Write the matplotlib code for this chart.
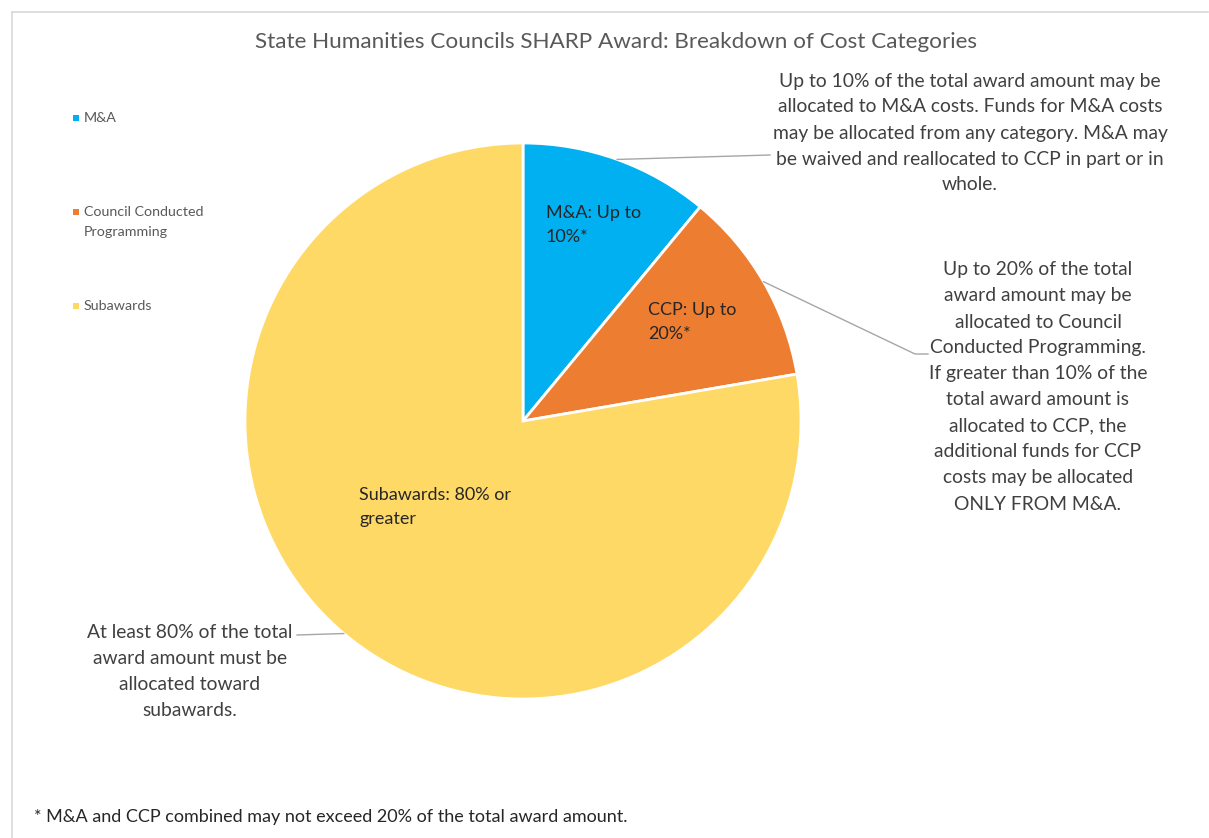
import matplotlib
matplotlib.use("Agg")
import matplotlib.pyplot as plt
from matplotlib.patches import Rectangle
import numpy as np

# ---- data ----
categories = ["M&A", "Council Conducted\nProgramming", "Subawards"]
values = [11.0, 11.3, 77.7]
slice_labels = ["M&A: Up to\n10%*", "CCP: Up to\n20%*", "Subawards: 80% or\ngreater"]
colors = ["#00B0F0", "#ED7D31", "#FFD966"]
title = "State Humanities Councils SHARP Award: Breakdown of Cost Categories"
callout_ma = ["Up to 10% of the total award amount may be",
              "allocated to M&A costs. Funds for M&A costs",
              "may be allocated from any category. M&A may",
              "be waived and reallocated to CCP in part or in",
              "whole."]
callout_ccp = ["Up to 20% of the total",
               "award amount may be",
               "allocated to Council",
               "Conducted Programming.",
               "If greater than 10% of the",
               "total award amount is",
               "allocated to CCP, the",
               "additional funds for CCP",
               "costs may be allocated",
               "ONLY FROM M&A."]
callout_sub = ["At least 80% of the total",
               "award amount must be",
               "allocated toward",
               "subawards."]
footnote = "* M&A and CCP combined may not exceed 20% of the total award amount."

W, H = 1209, 838
plt.rcParams['font.family'] = ['Lato', 'DejaVu Sans']

fig = plt.figure(figsize=(W / 100, H / 100), dpi=100)
ax = fig.add_axes([0, 0, 1, 1])

def Y(py):
    return H - py

cx, cy, R = 523, Y(421), 278
wedges, _ = ax.pie(values, center=(cx, cy), radius=R, startangle=90,
                   counterclock=False, colors=colors,
                   wedgeprops=dict(edgecolor="white", linewidth=2))
ax.set_xlim(0, W)
ax.set_ylim(0, H)
ax.set_aspect("equal")
ax.axis("off")

# chart border
ax.plot([12, 12], [Y(12), 0], color="#D9D9D9", lw=1.2)
ax.plot([12, 1208], [Y(12), Y(12)], color="#D9D9D9", lw=1.2)

# title
ax.text(616, Y(42), title, ha="center", va="center", fontsize=16.2, color="#595959")

# slice labels
label_pos = [(546, 213), (648, 310), (359, 495)]
for (lx, ly), txt in zip(label_pos, slice_labels):
    for i, line in enumerate(txt.split("\n")):
        ax.text(lx, Y(ly + 24 * i), line, ha="left", va="center",
                fontsize=13, color="#262626")

# legend (manual)
leg_y = [118, 212, 306]
for c, lab, ly in zip(colors, categories, leg_y):
    ax.add_patch(Rectangle((73, Y(ly) - 3), 6, 6, color=c, lw=0))
    for i, line in enumerate(lab.split("\n")):
        ax.text(84, Y(ly + 20 * i), line, ha="left", va="center",
                fontsize=10.3, color="#595959")

def mid_point(w):
    th = np.deg2rad((w.theta1 + w.theta2) / 2)
    return cx + R * np.cos(th), cy + R * np.sin(th)

def block(lines, xc, y0, step=26, fs=13.9):
    for i, line in enumerate(lines):
        ax.text(xc, Y(y0 + step * i), line, ha="center", va="center",
                fontsize=fs, color="#404040")

lc = "#A6A6A6"
# M&A callout
block(callout_ma, 970, 81)
px, py = mid_point(wedges[0])
ax.plot([px, 770], [py, Y(155)], color=lc, lw=1)

# CCP callout
block(callout_ccp, 1038, 270)
px, py = mid_point(wedges[1])
ax.plot([px, 915, 928], [py, Y(354), Y(354)], color=lc, lw=1)

# Subawards callout
block(callout_sub, 190, 632)
px, py = mid_point(wedges[2])
ax.plot([297, px], [Y(635), py], color=lc, lw=1)

# footnote
ax.text(34, Y(817), footnote, ha="left", va="center", fontsize=13, color="#262626")

fig.savefig("out.png", dpi=100)
